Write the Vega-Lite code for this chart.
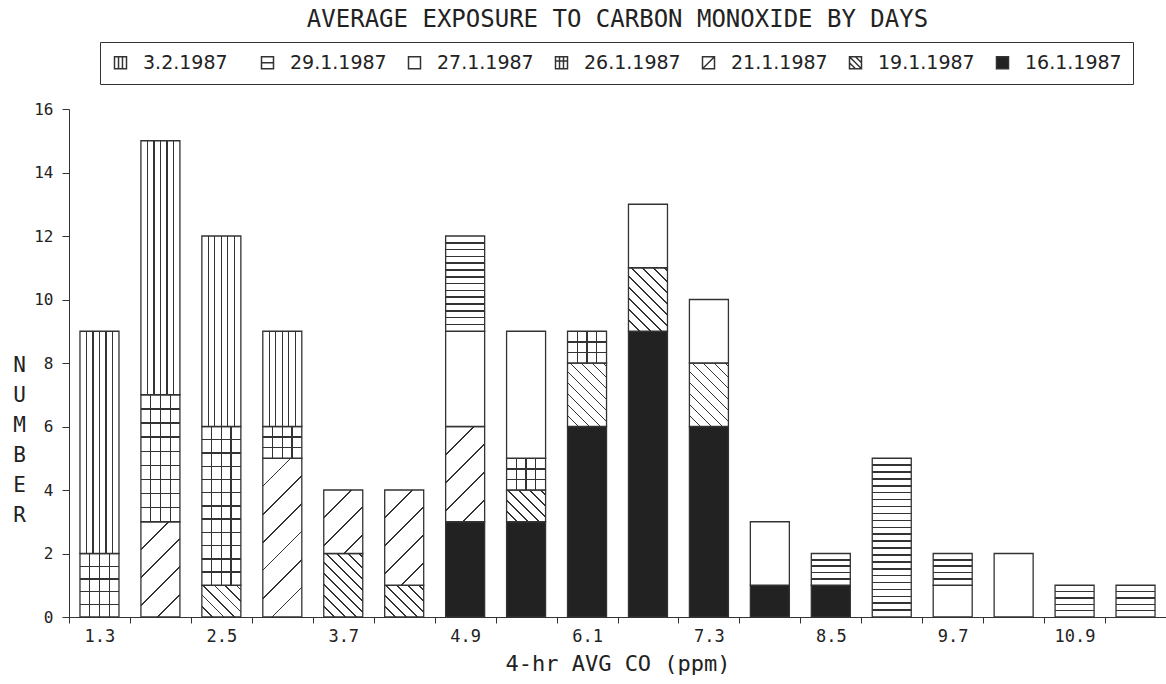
{
  "$schema": "https://vega.github.io/schema/vega-lite/v6.json",
  "width": 1097,
  "height": 508,
  "autosize": {"type": "none"},
  "padding": {"left": 69, "top": 109, "right": 0, "bottom": 67},
  "background": "white",
  "config": {
    "view": {"stroke": null},
    "axis": {"labelFont": "DejaVu Sans Mono", "titleFont": "DejaVu Sans Mono", "labelColor": "#222", "titleColor": "#222", "domainColor": "#333", "tickColor": "#333", "titleFontWeight": "normal", "grid": false}
  },
  "title": {"text": "AVERAGE EXPOSURE TO CARBON MONOXIDE BY DAYS", "font": "DejaVu Sans Mono", "fontSize": 24, "fontWeight": "normal", "color": "#222", "anchor": "middle", "frame": "group", "offset": 10},
  "data": {"values": [
    {"co": 1.3, "day": "26.1.1987", "count": 2},
    {"co": 1.3, "day": "3.2.1987", "count": 7},
    {"co": 1.9, "day": "21.1.1987", "count": 3},
    {"co": 1.9, "day": "26.1.1987", "count": 4},
    {"co": 1.9, "day": "3.2.1987", "count": 8},
    {"co": 2.5, "day": "19.1.1987", "count": 1},
    {"co": 2.5, "day": "26.1.1987", "count": 5},
    {"co": 2.5, "day": "3.2.1987", "count": 6},
    {"co": 3.1, "day": "21.1.1987", "count": 5},
    {"co": 3.1, "day": "26.1.1987", "count": 1},
    {"co": 3.1, "day": "3.2.1987", "count": 3},
    {"co": 3.7, "day": "19.1.1987", "count": 2},
    {"co": 3.7, "day": "21.1.1987", "count": 2},
    {"co": 4.3, "day": "19.1.1987", "count": 1},
    {"co": 4.3, "day": "21.1.1987", "count": 3},
    {"co": 4.9, "day": "16.1.1987", "count": 3},
    {"co": 4.9, "day": "21.1.1987", "count": 3},
    {"co": 4.9, "day": "27.1.1987", "count": 3},
    {"co": 4.9, "day": "29.1.1987", "count": 3},
    {"co": 5.5, "day": "16.1.1987", "count": 3},
    {"co": 5.5, "day": "19.1.1987", "count": 1},
    {"co": 5.5, "day": "26.1.1987", "count": 1},
    {"co": 5.5, "day": "27.1.1987", "count": 4},
    {"co": 6.1, "day": "16.1.1987", "count": 6},
    {"co": 6.1, "day": "19.1.1987", "count": 2},
    {"co": 6.1, "day": "26.1.1987", "count": 1},
    {"co": 6.7, "day": "16.1.1987", "count": 9},
    {"co": 6.7, "day": "19.1.1987", "count": 2},
    {"co": 6.7, "day": "27.1.1987", "count": 2},
    {"co": 7.3, "day": "16.1.1987", "count": 6},
    {"co": 7.3, "day": "19.1.1987", "count": 2},
    {"co": 7.3, "day": "27.1.1987", "count": 2},
    {"co": 7.9, "day": "16.1.1987", "count": 1},
    {"co": 7.9, "day": "27.1.1987", "count": 2},
    {"co": 8.5, "day": "16.1.1987", "count": 1},
    {"co": 8.5, "day": "29.1.1987", "count": 1},
    {"co": 9.1, "day": "29.1.1987", "count": 5},
    {"co": 9.7, "day": "27.1.1987", "count": 1},
    {"co": 9.7, "day": "29.1.1987", "count": 1},
    {"co": 10.3, "day": "27.1.1987", "count": 2},
    {"co": 10.9, "day": "29.1.1987", "count": 1},
    {"co": 11.5, "day": "29.1.1987", "count": 1}
  ]},
  "encoding": {
    "x": {"field": "co", "type": "ordinal", "scale": {"paddingInner": 0, "paddingOuter": 0},
      "axis": {"title": "4-hr AVG CO (ppm)", "labelAngle": 0, "tickBand": "extent", "labelExpr": "indexof([1.3,2.5,3.7,4.9,6.1,7.3,8.5,9.7,10.9], datum.value) >= 0 ? datum.label : ''", "labelFontSize": 17, "labelPadding": 5, "tickSize": 6, "titleFontSize": 22, "titleY": 46, "titleBaseline": "middle"}},
    "y": {"field": "count", "type": "quantitative", "stack": "zero", "scale": {"domain": [0, 16], "nice": false},
      "axis": {"title": ["N", "U", "M", "B", "E", "R"], "titleAngle": 0, "titleX": -50, "titleY": 256, "titleAlign": "center", "titleBaseline": "middle", "titleLineHeight": 30, "titleFontSize": 21, "values": [0, 2, 4, 6, 8, 10, 12, 14, 16], "tickSize": 7, "labelPadding": 9, "labelFontSize": 16}},
    "order": {"field": "day", "sort": "ascending"}
  },
  "layer": [
    {
      "mark": {"type": "bar", "width": {"band": 0.64}, "stroke": "#333", "strokeWidth": 1.3},
      "encoding": {
        "fill": {"field": "day", "type": "nominal",
          "scale": {"domain": ["3.2.1987", "29.1.1987", "27.1.1987", "26.1.1987", "21.1.1987", "19.1.1987", "16.1.1987"], "range": ["#fff", "#fff", "#fff", "#fff", "#fff", "#fff", "#222"]},
          "legend": {"orient": "none", "legendX": 31, "legendY": -67, "direction": "horizontal", "columns": 7, "gridAlign": "all", "title": null, "strokeColor": "#333", "padding": 11, "symbolSize": 144, "symbolStrokeWidth": 1.5, "labelFont": "DejaVu Sans", "labelFontSize": 19, "labelColor": "#222", "labelOffset": 13, "columnPadding": 18},
          "condition": [
            {"test": "datum.day==='3.2.1987'", "value": {"gradient": "linear", "x1": 0, "y1": 0, "x2": 1, "y2": 0, "stops": [
              {"offset": 0, "color": "#fff"},
              {"offset": 0.151, "color": "#fff"}, {"offset": 0.151, "color": "#333"}, {"offset": 0.182, "color": "#333"}, {"offset": 0.182, "color": "#fff"},
              {"offset": 0.318, "color": "#fff"}, {"offset": 0.318, "color": "#333"}, {"offset": 0.349, "color": "#333"}, {"offset": 0.349, "color": "#fff"},
              {"offset": 0.484, "color": "#fff"}, {"offset": 0.484, "color": "#333"}, {"offset": 0.516, "color": "#333"}, {"offset": 0.516, "color": "#fff"},
              {"offset": 0.651, "color": "#fff"}, {"offset": 0.651, "color": "#333"}, {"offset": 0.682, "color": "#333"}, {"offset": 0.682, "color": "#fff"},
              {"offset": 0.818, "color": "#fff"}, {"offset": 0.818, "color": "#333"}, {"offset": 0.849, "color": "#333"}, {"offset": 0.849, "color": "#fff"},
              {"offset": 1, "color": "#fff"}]}},
            {"test": "datum.day==='26.1.1987'", "value": {"gradient": "linear", "x1": 0, "y1": 0, "x2": 1, "y2": 0, "stops": [
              {"offset": 0, "color": "#fff"},
              {"offset": 0.234, "color": "#fff"}, {"offset": 0.234, "color": "#333"}, {"offset": 0.266, "color": "#333"}, {"offset": 0.266, "color": "#fff"},
              {"offset": 0.484, "color": "#fff"}, {"offset": 0.484, "color": "#333"}, {"offset": 0.516, "color": "#333"}, {"offset": 0.516, "color": "#fff"},
              {"offset": 0.734, "color": "#fff"}, {"offset": 0.734, "color": "#333"}, {"offset": 0.766, "color": "#333"}, {"offset": 0.766, "color": "#fff"},
              {"offset": 1, "color": "#fff"}]}},
            {"test": "datum.day==='29.1.1987' && datum.count===1", "value": {"gradient": "linear", "x1": 0, "y1": 0, "x2": 0, "y2": 1, "stops": [
              {"offset": 0, "color": "#fff"},
              {"offset": 0.175, "color": "#fff"}, {"offset": 0.175, "color": "#333"}, {"offset": 0.225, "color": "#333"}, {"offset": 0.225, "color": "#fff"},
              {"offset": 0.375, "color": "#fff"}, {"offset": 0.375, "color": "#333"}, {"offset": 0.425, "color": "#333"}, {"offset": 0.425, "color": "#fff"},
              {"offset": 0.575, "color": "#fff"}, {"offset": 0.575, "color": "#333"}, {"offset": 0.625, "color": "#333"}, {"offset": 0.625, "color": "#fff"},
              {"offset": 0.775, "color": "#fff"}, {"offset": 0.775, "color": "#333"}, {"offset": 0.825, "color": "#333"}, {"offset": 0.825, "color": "#fff"},
              {"offset": 1, "color": "#fff"}]}},
            {"test": "datum.day==='29.1.1987' && datum.count===3", "value": {"gradient": "linear", "x1": 0, "y1": 0, "x2": 0, "y2": 1, "stops": [
              {"offset": 0, "color": "#fff"},
              {"offset": 0.063, "color": "#fff"}, {"offset": 0.063, "color": "#333"}, {"offset": 0.080, "color": "#333"}, {"offset": 0.080, "color": "#fff"},
              {"offset": 0.134, "color": "#fff"}, {"offset": 0.134, "color": "#333"}, {"offset": 0.151, "color": "#333"}, {"offset": 0.151, "color": "#fff"},
              {"offset": 0.206, "color": "#fff"}, {"offset": 0.206, "color": "#333"}, {"offset": 0.223, "color": "#333"}, {"offset": 0.223, "color": "#fff"},
              {"offset": 0.277, "color": "#fff"}, {"offset": 0.277, "color": "#333"}, {"offset": 0.294, "color": "#333"}, {"offset": 0.294, "color": "#fff"},
              {"offset": 0.349, "color": "#fff"}, {"offset": 0.349, "color": "#333"}, {"offset": 0.366, "color": "#333"}, {"offset": 0.366, "color": "#fff"},
              {"offset": 0.420, "color": "#fff"}, {"offset": 0.420, "color": "#333"}, {"offset": 0.437, "color": "#333"}, {"offset": 0.437, "color": "#fff"},
              {"offset": 0.492, "color": "#fff"}, {"offset": 0.492, "color": "#333"}, {"offset": 0.508, "color": "#333"}, {"offset": 0.508, "color": "#fff"},
              {"offset": 0.563, "color": "#fff"}, {"offset": 0.563, "color": "#333"}, {"offset": 0.580, "color": "#333"}, {"offset": 0.580, "color": "#fff"},
              {"offset": 0.634, "color": "#fff"}, {"offset": 0.634, "color": "#333"}, {"offset": 0.651, "color": "#333"}, {"offset": 0.651, "color": "#fff"},
              {"offset": 0.706, "color": "#fff"}, {"offset": 0.706, "color": "#333"}, {"offset": 0.723, "color": "#333"}, {"offset": 0.723, "color": "#fff"},
              {"offset": 0.777, "color": "#fff"}, {"offset": 0.777, "color": "#333"}, {"offset": 0.794, "color": "#333"}, {"offset": 0.794, "color": "#fff"},
              {"offset": 0.849, "color": "#fff"}, {"offset": 0.849, "color": "#333"}, {"offset": 0.866, "color": "#333"}, {"offset": 0.866, "color": "#fff"},
              {"offset": 0.920, "color": "#fff"}, {"offset": 0.920, "color": "#333"}, {"offset": 0.937, "color": "#333"}, {"offset": 0.937, "color": "#fff"},
              {"offset": 1, "color": "#fff"}]}},
            {"test": "datum.day==='29.1.1987' && datum.count===5", "value": {"gradient": "linear", "x1": 0, "y1": 0, "x2": 0, "y2": 1, "stops": [
              {"offset": 0, "color": "#fff"},
              {"offset": 0.0385, "color": "#fff"}, {"offset": 0.0385, "color": "#333"}, {"offset": 0.0485, "color": "#333"}, {"offset": 0.0485, "color": "#fff"},
              {"offset": 0.082, "color": "#fff"}, {"offset": 0.082, "color": "#333"}, {"offset": 0.092, "color": "#333"}, {"offset": 0.092, "color": "#fff"},
              {"offset": 0.125, "color": "#fff"}, {"offset": 0.125, "color": "#333"}, {"offset": 0.135, "color": "#333"}, {"offset": 0.135, "color": "#fff"},
              {"offset": 0.169, "color": "#fff"}, {"offset": 0.169, "color": "#333"}, {"offset": 0.179, "color": "#333"}, {"offset": 0.179, "color": "#fff"},
              {"offset": 0.212, "color": "#fff"}, {"offset": 0.212, "color": "#333"}, {"offset": 0.222, "color": "#333"}, {"offset": 0.222, "color": "#fff"},
              {"offset": 0.256, "color": "#fff"}, {"offset": 0.256, "color": "#333"}, {"offset": 0.266, "color": "#333"}, {"offset": 0.266, "color": "#fff"},
              {"offset": 0.299, "color": "#fff"}, {"offset": 0.299, "color": "#333"}, {"offset": 0.309, "color": "#333"}, {"offset": 0.309, "color": "#fff"},
              {"offset": 0.343, "color": "#fff"}, {"offset": 0.343, "color": "#333"}, {"offset": 0.353, "color": "#333"}, {"offset": 0.353, "color": "#fff"},
              {"offset": 0.386, "color": "#fff"}, {"offset": 0.386, "color": "#333"}, {"offset": 0.396, "color": "#333"}, {"offset": 0.396, "color": "#fff"},
              {"offset": 0.430, "color": "#fff"}, {"offset": 0.430, "color": "#333"}, {"offset": 0.440, "color": "#333"}, {"offset": 0.440, "color": "#fff"},
              {"offset": 0.473, "color": "#fff"}, {"offset": 0.473, "color": "#333"}, {"offset": 0.483, "color": "#333"}, {"offset": 0.483, "color": "#fff"},
              {"offset": 0.517, "color": "#fff"}, {"offset": 0.517, "color": "#333"}, {"offset": 0.527, "color": "#333"}, {"offset": 0.527, "color": "#fff"},
              {"offset": 0.560, "color": "#fff"}, {"offset": 0.560, "color": "#333"}, {"offset": 0.570, "color": "#333"}, {"offset": 0.570, "color": "#fff"},
              {"offset": 0.604, "color": "#fff"}, {"offset": 0.604, "color": "#333"}, {"offset": 0.614, "color": "#333"}, {"offset": 0.614, "color": "#fff"},
              {"offset": 0.647, "color": "#fff"}, {"offset": 0.647, "color": "#333"}, {"offset": 0.657, "color": "#333"}, {"offset": 0.657, "color": "#fff"},
              {"offset": 0.691, "color": "#fff"}, {"offset": 0.691, "color": "#333"}, {"offset": 0.701, "color": "#333"}, {"offset": 0.701, "color": "#fff"},
              {"offset": 0.734, "color": "#fff"}, {"offset": 0.734, "color": "#333"}, {"offset": 0.744, "color": "#333"}, {"offset": 0.744, "color": "#fff"},
              {"offset": 0.778, "color": "#fff"}, {"offset": 0.778, "color": "#333"}, {"offset": 0.788, "color": "#333"}, {"offset": 0.788, "color": "#fff"},
              {"offset": 0.821, "color": "#fff"}, {"offset": 0.821, "color": "#333"}, {"offset": 0.831, "color": "#333"}, {"offset": 0.831, "color": "#fff"},
              {"offset": 0.865, "color": "#fff"}, {"offset": 0.865, "color": "#333"}, {"offset": 0.875, "color": "#333"}, {"offset": 0.875, "color": "#fff"},
              {"offset": 0.908, "color": "#fff"}, {"offset": 0.908, "color": "#333"}, {"offset": 0.918, "color": "#333"}, {"offset": 0.918, "color": "#fff"},
              {"offset": 0.952, "color": "#fff"}, {"offset": 0.952, "color": "#333"}, {"offset": 0.962, "color": "#333"}, {"offset": 0.962, "color": "#fff"},
              {"offset": 1, "color": "#fff"}]}},
            {"test": "datum.day==='21.1.1987' && datum.count===2", "value": {"gradient": "linear", "x1": 0, "y1": 0, "x2": 0.71987, "y2": 1.17207, "stops": [
              {"offset": 0, "color": "#fff"},
              {"offset": 0.264, "color": "#fff"}, {"offset": 0.264, "color": "#333"}, {"offset": 0.282, "color": "#333"}, {"offset": 0.282, "color": "#fff"},
              {"offset": 0.537, "color": "#fff"}, {"offset": 0.537, "color": "#333"}, {"offset": 0.555, "color": "#333"}, {"offset": 0.555, "color": "#fff"},
              {"offset": 0.811, "color": "#fff"}, {"offset": 0.811, "color": "#333"}, {"offset": 0.829, "color": "#333"}, {"offset": 0.829, "color": "#fff"},
              {"offset": 1, "color": "#fff"}]}},
            {"test": "datum.day==='21.1.1987' && datum.count===3", "value": {"gradient": "linear", "x1": 0, "y1": 0, "x2": 0.49424, "y2": 1.20708, "stops": [
              {"offset": 0, "color": "#fff"},
              {"offset": 0.202, "color": "#fff"}, {"offset": 0.202, "color": "#333"}, {"offset": 0.215, "color": "#333"}, {"offset": 0.215, "color": "#fff"},
              {"offset": 0.410, "color": "#fff"}, {"offset": 0.410, "color": "#333"}, {"offset": 0.424, "color": "#333"}, {"offset": 0.424, "color": "#fff"},
              {"offset": 0.619, "color": "#fff"}, {"offset": 0.619, "color": "#333"}, {"offset": 0.633, "color": "#333"}, {"offset": 0.633, "color": "#fff"},
              {"offset": 0.827, "color": "#fff"}, {"offset": 0.827, "color": "#333"}, {"offset": 0.841, "color": "#333"}, {"offset": 0.841, "color": "#fff"},
              {"offset": 1, "color": "#fff"}]}},
            {"test": "datum.day==='21.1.1987' && datum.count===5", "value": {"gradient": "linear", "x1": 0, "y1": 0, "x2": 0.28861, "y2": 1.17477, "stops": [
              {"offset": 0, "color": "#fff"},
              {"offset": 0.137, "color": "#fff"}, {"offset": 0.137, "color": "#333"}, {"offset": 0.146, "color": "#333"}, {"offset": 0.146, "color": "#fff"},
              {"offset": 0.279, "color": "#fff"}, {"offset": 0.279, "color": "#333"}, {"offset": 0.288, "color": "#333"}, {"offset": 0.288, "color": "#fff"},
              {"offset": 0.420, "color": "#fff"}, {"offset": 0.420, "color": "#333"}, {"offset": 0.430, "color": "#333"}, {"offset": 0.430, "color": "#fff"},
              {"offset": 0.562, "color": "#fff"}, {"offset": 0.562, "color": "#333"}, {"offset": 0.571, "color": "#333"}, {"offset": 0.571, "color": "#fff"},
              {"offset": 0.703, "color": "#fff"}, {"offset": 0.703, "color": "#333"}, {"offset": 0.713, "color": "#333"}, {"offset": 0.713, "color": "#fff"},
              {"offset": 0.845, "color": "#fff"}, {"offset": 0.845, "color": "#333"}, {"offset": 0.854, "color": "#333"}, {"offset": 0.854, "color": "#fff"},
              {"offset": 1, "color": "#fff"}]}},
            {"test": "datum.day==='19.1.1987' && datum.count===1", "value": {"gradient": "linear", "x1": 0, "y1": 1, "x2": 1.09103, "y2": 0.1118, "stops": [
              {"offset": 0, "color": "#fff"},
              {"offset": 0.143, "color": "#fff"}, {"offset": 0.143, "color": "#333"}, {"offset": 0.167, "color": "#333"}, {"offset": 0.167, "color": "#fff"},
              {"offset": 0.299, "color": "#fff"}, {"offset": 0.299, "color": "#333"}, {"offset": 0.323, "color": "#333"}, {"offset": 0.323, "color": "#fff"},
              {"offset": 0.454, "color": "#fff"}, {"offset": 0.454, "color": "#333"}, {"offset": 0.478, "color": "#333"}, {"offset": 0.478, "color": "#fff"},
              {"offset": 0.610, "color": "#fff"}, {"offset": 0.610, "color": "#333"}, {"offset": 0.634, "color": "#333"}, {"offset": 0.634, "color": "#fff"},
              {"offset": 0.765, "color": "#fff"}, {"offset": 0.765, "color": "#333"}, {"offset": 0.789, "color": "#333"}, {"offset": 0.789, "color": "#fff"},
              {"offset": 0.921, "color": "#fff"}, {"offset": 0.921, "color": "#333"}, {"offset": 0.945, "color": "#333"}, {"offset": 0.945, "color": "#fff"},
              {"offset": 1, "color": "#fff"}]}},
            {"test": "datum.day==='19.1.1987' && datum.count===2", "value": {"gradient": "linear", "x1": 0, "y1": 1, "x2": 0.71987, "y2": -0.17207, "stops": [
              {"offset": 0, "color": "#fff"},
              {"offset": 0.099, "color": "#fff"}, {"offset": 0.099, "color": "#333"}, {"offset": 0.116, "color": "#333"}, {"offset": 0.116, "color": "#fff"},
              {"offset": 0.206, "color": "#fff"}, {"offset": 0.206, "color": "#333"}, {"offset": 0.223, "color": "#333"}, {"offset": 0.223, "color": "#fff"},
              {"offset": 0.314, "color": "#fff"}, {"offset": 0.314, "color": "#333"}, {"offset": 0.330, "color": "#333"}, {"offset": 0.330, "color": "#fff"},
              {"offset": 0.421, "color": "#fff"}, {"offset": 0.421, "color": "#333"}, {"offset": 0.438, "color": "#333"}, {"offset": 0.438, "color": "#fff"},
              {"offset": 0.528, "color": "#fff"}, {"offset": 0.528, "color": "#333"}, {"offset": 0.545, "color": "#333"}, {"offset": 0.545, "color": "#fff"},
              {"offset": 0.636, "color": "#fff"}, {"offset": 0.636, "color": "#333"}, {"offset": 0.652, "color": "#333"}, {"offset": 0.652, "color": "#fff"},
              {"offset": 0.743, "color": "#fff"}, {"offset": 0.743, "color": "#333"}, {"offset": 0.760, "color": "#333"}, {"offset": 0.760, "color": "#fff"},
              {"offset": 0.850, "color": "#fff"}, {"offset": 0.850, "color": "#333"}, {"offset": 0.867, "color": "#333"}, {"offset": 0.867, "color": "#fff"},
              {"offset": 0.958, "color": "#fff"}, {"offset": 0.958, "color": "#333"}, {"offset": 0.974, "color": "#333"}, {"offset": 0.974, "color": "#fff"},
              {"offset": 1, "color": "#fff"}]}}
          ]
        }
      }
    },
    {
      "mark": {"type": "bar", "width": {"band": 0.64}, "strokeWidth": 0},
      "encoding": {
        "detail": {"field": "day", "type": "nominal"},
        "fill": {"value": "transparent", "condition": [
          {"test": "datum.day==='26.1.1987' && datum.count===1", "value": {"gradient": "linear", "x1": 0, "y1": 0, "x2": 0, "y2": 1, "stops": [
            {"offset": 0, "color": "rgba(255,255,255,0)"},
            {"offset": 0.311, "color": "rgba(255,255,255,0)"}, {"offset": 0.311, "color": "#333"}, {"offset": 0.355, "color": "#333"}, {"offset": 0.355, "color": "rgba(255,255,255,0)"},
            {"offset": 0.645, "color": "rgba(255,255,255,0)"}, {"offset": 0.645, "color": "#333"}, {"offset": 0.689, "color": "#333"}, {"offset": 0.689, "color": "rgba(255,255,255,0)"},
            {"offset": 1, "color": "rgba(255,255,255,0)"}]}},
          {"test": "datum.day==='26.1.1987' && datum.count===2", "value": {"gradient": "linear", "x1": 0, "y1": 0, "x2": 0, "y2": 1, "stops": [
            {"offset": 0, "color": "rgba(255,255,255,0)"},
            {"offset": 0.189, "color": "rgba(255,255,255,0)"}, {"offset": 0.189, "color": "#333"}, {"offset": 0.211, "color": "#333"}, {"offset": 0.211, "color": "rgba(255,255,255,0)"},
            {"offset": 0.389, "color": "rgba(255,255,255,0)"}, {"offset": 0.389, "color": "#333"}, {"offset": 0.411, "color": "#333"}, {"offset": 0.411, "color": "rgba(255,255,255,0)"},
            {"offset": 0.589, "color": "rgba(255,255,255,0)"}, {"offset": 0.589, "color": "#333"}, {"offset": 0.611, "color": "#333"}, {"offset": 0.611, "color": "rgba(255,255,255,0)"},
            {"offset": 0.789, "color": "rgba(255,255,255,0)"}, {"offset": 0.789, "color": "#333"}, {"offset": 0.811, "color": "#333"}, {"offset": 0.811, "color": "rgba(255,255,255,0)"},
            {"offset": 1, "color": "rgba(255,255,255,0)"}]}},
          {"test": "datum.day==='26.1.1987' && datum.count===4", "value": {"gradient": "linear", "x1": 0, "y1": 0, "x2": 0, "y2": 1, "stops": [
            {"offset": 0, "color": "rgba(255,255,255,0)"},
            {"offset": 0.106, "color": "rgba(255,255,255,0)"}, {"offset": 0.106, "color": "#333"}, {"offset": 0.117, "color": "#333"}, {"offset": 0.117, "color": "rgba(255,255,255,0)"},
            {"offset": 0.217, "color": "rgba(255,255,255,0)"}, {"offset": 0.217, "color": "#333"}, {"offset": 0.228, "color": "#333"}, {"offset": 0.228, "color": "rgba(255,255,255,0)"},
            {"offset": 0.328, "color": "rgba(255,255,255,0)"}, {"offset": 0.328, "color": "#333"}, {"offset": 0.339, "color": "#333"}, {"offset": 0.339, "color": "rgba(255,255,255,0)"},
            {"offset": 0.439, "color": "rgba(255,255,255,0)"}, {"offset": 0.439, "color": "#333"}, {"offset": 0.450, "color": "#333"}, {"offset": 0.450, "color": "rgba(255,255,255,0)"},
            {"offset": 0.550, "color": "rgba(255,255,255,0)"}, {"offset": 0.550, "color": "#333"}, {"offset": 0.561, "color": "#333"}, {"offset": 0.561, "color": "rgba(255,255,255,0)"},
            {"offset": 0.661, "color": "rgba(255,255,255,0)"}, {"offset": 0.661, "color": "#333"}, {"offset": 0.672, "color": "#333"}, {"offset": 0.672, "color": "rgba(255,255,255,0)"},
            {"offset": 0.772, "color": "rgba(255,255,255,0)"}, {"offset": 0.772, "color": "#333"}, {"offset": 0.783, "color": "#333"}, {"offset": 0.783, "color": "rgba(255,255,255,0)"},
            {"offset": 0.883, "color": "rgba(255,255,255,0)"}, {"offset": 0.883, "color": "#333"}, {"offset": 0.894, "color": "#333"}, {"offset": 0.894, "color": "rgba(255,255,255,0)"},
            {"offset": 1, "color": "rgba(255,255,255,0)"}]}},
          {"test": "datum.day==='26.1.1987' && datum.count===5", "value": {"gradient": "linear", "x1": 0, "y1": 0, "x2": 0, "y2": 1, "stops": [
            {"offset": 0, "color": "rgba(255,255,255,0)"},
            {"offset": 0.079, "color": "rgba(255,255,255,0)"}, {"offset": 0.079, "color": "#333"}, {"offset": 0.088, "color": "#333"}, {"offset": 0.088, "color": "rgba(255,255,255,0)"},
            {"offset": 0.162, "color": "rgba(255,255,255,0)"}, {"offset": 0.162, "color": "#333"}, {"offset": 0.171, "color": "#333"}, {"offset": 0.171, "color": "rgba(255,255,255,0)"},
            {"offset": 0.246, "color": "rgba(255,255,255,0)"}, {"offset": 0.246, "color": "#333"}, {"offset": 0.254, "color": "#333"}, {"offset": 0.254, "color": "rgba(255,255,255,0)"},
            {"offset": 0.329, "color": "rgba(255,255,255,0)"}, {"offset": 0.329, "color": "#333"}, {"offset": 0.338, "color": "#333"}, {"offset": 0.338, "color": "rgba(255,255,255,0)"},
            {"offset": 0.412, "color": "rgba(255,255,255,0)"}, {"offset": 0.412, "color": "#333"}, {"offset": 0.421, "color": "#333"}, {"offset": 0.421, "color": "rgba(255,255,255,0)"},
            {"offset": 0.496, "color": "rgba(255,255,255,0)"}, {"offset": 0.496, "color": "#333"}, {"offset": 0.504, "color": "#333"}, {"offset": 0.504, "color": "rgba(255,255,255,0)"},
            {"offset": 0.579, "color": "rgba(255,255,255,0)"}, {"offset": 0.579, "color": "#333"}, {"offset": 0.588, "color": "#333"}, {"offset": 0.588, "color": "rgba(255,255,255,0)"},
            {"offset": 0.662, "color": "rgba(255,255,255,0)"}, {"offset": 0.662, "color": "#333"}, {"offset": 0.671, "color": "#333"}, {"offset": 0.671, "color": "rgba(255,255,255,0)"},
            {"offset": 0.746, "color": "rgba(255,255,255,0)"}, {"offset": 0.746, "color": "#333"}, {"offset": 0.754, "color": "#333"}, {"offset": 0.754, "color": "rgba(255,255,255,0)"},
            {"offset": 0.829, "color": "rgba(255,255,255,0)"}, {"offset": 0.829, "color": "#333"}, {"offset": 0.838, "color": "#333"}, {"offset": 0.838, "color": "rgba(255,255,255,0)"},
            {"offset": 0.912, "color": "rgba(255,255,255,0)"}, {"offset": 0.912, "color": "#333"}, {"offset": 0.921, "color": "#333"}, {"offset": 0.921, "color": "rgba(255,255,255,0)"},
            {"offset": 1, "color": "rgba(255,255,255,0)"}]}}
        ]}
      }
    },
    {
      "mark": {"type": "point", "opacity": 0},
      "encoding": {
        "shape": {"field": "day", "type": "nominal",
          "scale": {"domain": ["3.2.1987", "29.1.1987", "27.1.1987", "26.1.1987", "21.1.1987", "19.1.1987", "16.1.1987"],
            "range": ["M-1,-1H1V1H-1Z M-0.33,-1V1 M0.33,-1V1", "M-1,-1H1V1H-1Z M-1,0H1", "M-1,-1H1V1H-1Z", "M-1,-1H1V1H-1Z M-0.33,-1V1 M0.33,-1V1 M-1,-0.3H1", "M-1,-1H1V1H-1Z M-1,1L1,-1", "M-1,-1H1V1H-1Z M-1,-1L1,1 M-1,0L0,1 M0,-1L1,0", "M-1,-1H1V1H-1Z"]},
          "legend": {"orient": "none", "legendX": 31, "legendY": -67, "title": null}
        }
      }
    }
  ]
}
